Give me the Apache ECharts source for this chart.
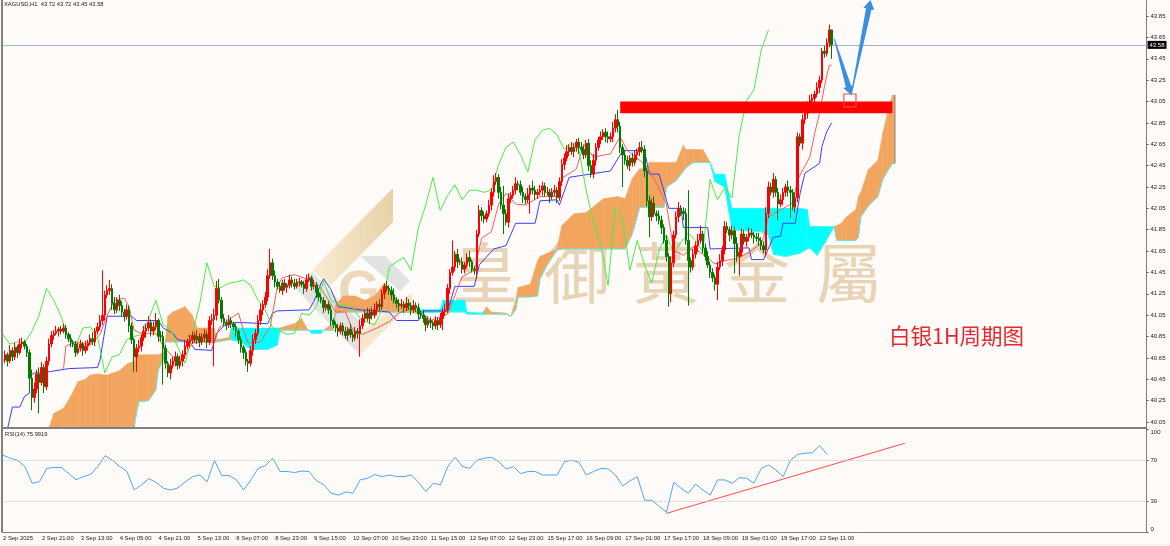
<!DOCTYPE html>
<html><head><meta charset="utf-8">
<style>html,body{margin:0;padding:0;background:#fffbf9}#c{width:1170px;height:546px}</style>
<script src="https://cdn.jsdelivr.net/npm/echarts@6/dist/echarts.min.js"></script>
</head><body><div id="c"></div>
<script>
const tickLabels=['2 Sep 2025','2 Sep 21:00','3 Sep 13:00','4 Sep 05:00','4 Sep 21:00','5 Sep 13:00','8 Sep 07:00','8 Sep 23:00','9 Sep 15:00','10 Sep 07:00','10 Sep 23:00','11 Sep 15:00','12 Sep 07:00','12 Sep 23:00','15 Sep 17:00','16 Sep 09:00','17 Sep 01:00','17 Sep 17:00','18 Sep 09:00','19 Sep 01:00','19 Sep 17:00','22 Sep 11:00'];
const priceTicks=[40.05,40.25,40.45,40.65,40.85,41.05,41.25,41.45,41.65,41.85,42.05,42.25,42.45,42.65,42.85,43.05,43.25,43.45,43.65,43.85];
const rsiTicks=[0,30,70,100];
const lastPrice=43.58;
const closes=[40.63,40.68,40.62,40.72,40.66,40.75,40.70,40.78,40.80,40.76,
40.70,40.46,40.28,40.36,40.50,40.42,40.56,40.38,40.62,40.78,
40.86,40.88,40.90,40.92,40.90,40.93,40.87,40.83,40.80,40.78,
40.70,40.74,40.78,40.72,40.76,40.79,40.83,40.80,40.90,40.94,
41.00,41.05,41.24,41.28,41.30,41.16,41.10,41.19,41.14,41.08,
41.04,41.10,40.95,40.82,40.66,40.74,40.76,40.84,40.90,40.93,
40.98,40.90,40.94,41.00,40.86,40.85,40.74,40.60,40.51,40.58,
40.62,40.66,40.58,40.62,40.68,40.76,40.80,40.82,40.86,40.82,
40.85,40.80,40.84,40.87,40.80,41.00,41.01,41.05,41.30,41.19,
41.02,40.98,40.96,41.00,40.97,40.94,40.90,40.82,40.75,40.70,
40.62,40.60,40.72,40.82,40.88,41.00,41.10,41.15,41.22,41.42,
41.54,41.42,41.36,41.32,41.28,41.35,41.31,41.33,41.38,41.35,
41.32,41.36,41.36,41.34,41.30,41.38,41.40,41.32,41.33,41.26,
41.22,41.19,41.12,41.15,41.10,41.00,40.96,40.93,40.90,40.95,
40.90,40.86,40.92,40.87,40.84,40.90,40.88,40.95,41.02,41.07,
41.02,41.08,41.05,41.10,41.15,41.13,41.25,41.32,41.30,41.28,
41.24,41.19,41.16,41.14,41.15,41.12,41.16,41.14,41.10,41.14,
41.12,41.06,41.05,41.02,40.96,41.00,40.98,40.95,41.00,40.96,
41.02,41.08,41.10,41.30,41.45,41.50,41.62,41.55,41.55,41.48,
41.52,41.59,41.55,41.48,41.47,41.81,42.03,41.98,41.95,42.00,
42.08,42.20,42.30,42.34,42.20,42.08,42.00,41.92,42.14,42.17,
42.22,42.28,42.27,42.20,42.16,42.13,42.18,42.24,42.22,42.18,
42.20,42.22,42.26,42.20,42.20,42.16,42.20,42.22,42.15,42.30,
42.46,42.52,42.58,42.62,42.58,42.62,42.67,42.62,42.60,42.55,
42.66,42.45,42.37,42.50,42.62,42.69,42.72,42.76,42.72,42.70,
42.72,42.80,42.88,42.82,42.62,42.55,42.50,42.45,42.52,42.48,
42.55,42.58,42.62,42.60,42.40,42.12,41.97,42.10,42.00,41.98,
41.94,41.87,41.75,41.60,41.25,41.54,41.80,41.97,42.05,42.02,
42.00,41.75,41.56,41.50,41.62,41.70,41.75,41.81,41.68,41.60,
41.52,41.45,41.40,41.34,41.50,41.56,41.66,41.88,41.85,41.80,
41.84,41.72,41.60,41.64,41.81,41.74,41.78,41.82,41.80,41.78,
41.77,41.75,41.70,41.66,42.00,42.25,42.20,42.32,42.20,42.09,
42.13,42.20,42.25,42.22,42.20,42.06,42.15,42.72,42.66,42.88,
42.94,43.02,43.06,43.08,43.12,43.18,43.25,43.52,43.50,43.60,43.72,43.58];
const upWicks=[3,4,2,5,3,4,2,5,4,2,2,3,8,6,4,6,5,3,4,5,4,3,5,2,3,4,3,2,4,2,3,5,4,2,5,3,4,6,3,4,5,42,4,5,8,4,6,3,5,4,3,5,4,3,2,4,6,3,5,4,6,3,5,7,2,4,5,3,2,6,4,5,3,5,4,6,3,5,4,3,6,3,4,5,3,4,5,6,7,9,3,4,3,5,3,2,3,2,3,2,3,2,4,5,4,5,6,4,5,6,13,4,5,3,4,3,4,2,5,3,4,3,4,2,3,5,4,2,5,3,4,3,3,4,3,4,2,3,4,3,3,4,2,5,3,4,3,6,4,3,5,3,4,6,3,5,4,3,5,3,4,6,3,4,5,3,6,4,3,5,3,4,3,5,2,4,3,2,4,3,5,4,6,4,3,25,3,5,3,4,3,4,6,2,3,4,5,3,4,3,5,4,6,4,3,5,18,4,5,3,4,6,3,4,5,3,6,3,7,4,3,5,4,3,5,3,4,5,3,4,5,4,6,3,5,4,3,4,5,4,3,4,5,6,4,3,5,3,4,5,4,6,5,9,4,3,5,4,3,5,4,3,5,6,4,3,5,4,6,3,5,4,3,5,3,6,4,5,6,3,4,5,47,3,5,4,6,8,3,4,5,3,4,3,5,6,4,5,4,3,5,4,6,3,5,4,3,5,4,3,4,5,3,4,6,5,4,6,3,4,5,4,3,6,4,3,5,4,3,5,4,3,5,4,3,5,4,3,5,4,5,0];
const downWicks=[4,3,5,2,4,3,5,2,4,3,4,8,12,5,4,29,3,6,3,4,3,4,2,5,3,2,4,3,5,3,4,2,3,5,3,4,2,3,4,3,3,4,5,3,4,6,4,3,5,4,5,3,6,4,14,14,4,5,3,6,3,5,4,3,6,4,34,5,4,6,3,5,4,3,5,4,3,5,4,3,4,5,3,4,6,3,4,44,5,3,4,3,5,3,4,3,5,4,5,6,4,8,3,5,4,3,4,5,3,4,3,4,5,3,2,4,3,5,3,4,3,2,4,3,5,3,2,4,3,5,4,3,5,3,4,5,3,4,5,3,4,3,5,3,4,3,5,22,3,4,3,5,4,3,5,4,3,5,3,4,5,3,4,6,3,5,3,4,5,3,4,5,3,4,6,3,5,4,3,5,3,11,4,3,5,3,4,6,3,4,4,3,5,3,4,8,3,5,4,3,3,5,4,3,6,4,19,3,5,4,3,4,5,3,6,4,3,18,4,5,4,3,5,4,3,6,3,4,5,3,4,5,3,4,3,5,4,6,3,4,3,5,3,4,5,3,4,3,5,4,3,5,4,6,5,30,4,3,5,4,3,5,4,3,6,5,19,4,3,5,4,6,3,5,12,8,4,3,5,4,6,4,42,5,3,4,6,3,5,4,3,5,4,6,15,3,5,4,3,6,4,28,5,18,4,3,5,4,3,6,3,5,4,3,6,4,3,5,4,15,3,5,4,6,24,3,5,4,3,6,4,5,3,6,4,3,5,3,4,3,4,13];
const chikouStep=3;
const chikouValues=[40.87,40.78,40.80,40.79,40.90,41.05,41.30,41.19,41.04,40.82,
40.76,40.93,40.94,40.85,40.51,40.66,40.68,40.82,40.85,40.87,
41.01,41.19,40.96,40.92,40.75,40.60,40.88,41.15,41.54,41.32,
41.31,41.35,41.36,41.38,41.33,41.19,41.10,40.93,40.90,40.87,
40.88,41.07,41.05,41.13,41.37,41.19,41.15,41.14,41.12,41.02,
40.98,40.96,41.10,41.50,41.55,41.59,41.47,41.87,42.08,42.34,
42.03,42.17,42.27,42.13,42.22,42.22,42.20,42.22,42.46,42.62,
42.67,42.55,42.39,42.69,42.78,42.80,42.74,42.60,42.66,42.60,
42.22,41.92,41.71,41.33,42.05,41.94,41.47,41.75,41.52,41.35,
41.66,41.80,41.64,41.73,41.82,41.75,41.64,42.32,42.13,42.24,
42.15,42.74,43.06,43.16,43.53,43.72];
const kijunBars=[2,4,7,9,11,11,13,17,19,27,39,40,43,53,55,64,66,70,72,77,79,86,88,91,95,99,109,111,113,126,128,131,132,135,138,147,159,162,164,171,173,183,186,194,196,202,207,211,219,221,228,229,233,250,255,264,266,270,274,279,280,290,291,307,308,313,317,320,321,326,328,330,336,337,339,341];
const kijunValues=[39.99,40.19,40.19,40.29,40.32,40.48,40.51,40.51,40.52,40.55,40.56,40.63,41.04,41.04,41.00,41.00,40.93,40.88,40.82,40.80,40.73,40.72,40.88,40.95,40.98,40.98,40.97,41.07,41.09,41.10,41.18,41.35,41.39,41.29,41.13,41.10,41.08,41.00,41.00,41.00,41.09,41.09,41.32,41.32,41.52,41.67,41.70,41.91,41.91,42.12,42.13,42.08,42.34,42.40,42.59,42.59,42.37,42.37,42.05,42.05,41.87,41.87,41.67,41.68,41.57,41.57,41.78,41.79,41.91,41.91,42.19,42.38,42.47,42.63,42.77,42.85];
const tenkanBars=[25,26,30,36,40,43,46,50,52,54,57,63,66,70,74,78,83,87,89,95,97,99,101,106,110,113,115,120,126,130,134,137,141,144,148,154,159,163,170,176,183,189,194,197,201,204,207,211,215,221,228,230,236,239,243,250,254,257,262,265,269,273,276,280,284,293,297,302,307,312,313,315,325,327,332,334,336,338,340,341];
const tenkanValues=[40.55,40.76,40.80,40.77,40.87,41.05,41.19,41.21,41.13,40.91,40.88,40.88,40.76,40.66,40.63,40.79,40.80,40.79,40.93,41.04,41.07,40.91,40.79,40.80,40.94,41.32,41.40,41.43,41.38,41.33,41.19,41.08,41.08,40.91,40.87,40.93,40.99,41.07,41.13,41.00,41.06,41.41,41.47,41.77,41.83,42.09,42.19,42.09,42.08,42.16,42.16,42.33,42.42,42.65,42.53,42.56,42.72,42.59,42.50,42.44,42.28,42.09,41.66,41.61,41.69,41.53,41.56,41.58,41.64,41.72,41.78,41.97,42.10,42.32,42.53,42.75,42.94,43.19,43.39,43.39];
const cloudBars=[19,21,25,28,31,34,36,39,43,48,51,54,55,56,60,63,64,66,67,68,70,75,78,80,87,88,93,94,98,102,109,113,114,117,120,123,125,126,127,131,132,135,136,137,140,145,149,153,157,160,163,171,180,181,190,191,197,198,199,201,207,209,211,212,217,220,221,224,228,230,235,240,247,253,256,259,262,264,266,272,273,277,280,281,284,288,291,293,297,300,312,315,317,322,328,331,332,335,338,342,343,345,347,351,352,353,356,360,362,364,366,367];
const cloudLow=[39.90,39.90,39.90,39.90,39.90,39.90,39.90,39.90,39.90,39.90,39.90,39.99,40.13,40.24,40.25,40.35,40.54,40.63,40.80,40.80,40.80,40.80,40.80,40.80,40.80,40.80,40.82,40.82,40.80,40.73,40.73,40.77,40.91,40.91,40.91,40.91,40.91,40.91,40.88,40.88,40.91,40.91,40.91,41.07,41.08,41.08,41.08,41.08,41.08,41.08,41.08,41.07,41.08,41.08,41.08,41.06,41.06,41.06,41.06,41.06,41.06,41.04,41.10,41.22,41.22,41.23,41.39,41.52,41.66,41.67,41.67,41.67,41.67,41.67,41.67,41.81,42.06,42.06,42.06,42.06,42.25,42.31,42.40,42.43,42.48,42.48,42.48,42.30,42.25,41.85,41.83,41.80,41.62,41.60,41.63,41.67,41.68,41.61,41.72,41.88,41.75,41.75,41.75,41.75,41.78,41.97,42.07,42.16,42.32,42.40,42.47,42.47];
const cloudHigh=[39.99,40.13,40.18,40.29,40.43,40.45,40.49,40.50,40.49,40.53,40.59,40.62,40.68,40.68,40.68,40.68,40.68,40.70,40.82,41.04,41.08,41.13,41.05,40.93,40.93,40.82,40.84,40.93,40.93,40.93,40.93,40.93,40.93,40.95,40.97,41.02,40.93,40.91,40.91,40.91,40.91,40.96,40.94,41.15,41.23,41.23,41.19,41.23,41.35,41.27,41.16,41.10,41.10,41.19,41.19,41.08,41.07,41.09,41.13,41.08,41.07,41.04,41.19,41.31,41.34,41.56,41.60,41.63,41.67,41.89,42.00,42.01,42.14,42.16,42.14,42.33,42.42,42.42,42.48,42.48,42.48,42.48,42.64,42.60,42.60,42.60,42.48,42.37,42.37,42.05,42.05,42.05,42.05,42.05,42.05,42.04,41.88,41.88,41.88,41.88,41.89,41.91,41.97,42.04,42.16,42.20,42.41,42.50,42.75,42.95,43.11,43.11];
const cyanRanges=[[94,113],[126,131],[171,197],[291,341]];
const rsiStep=3;
const rsiValues=[75,72,70,64,47.5,49,62,63,63,57,51,54,56,64,74.5,70,64,59,41,46,52,48.5,42.6,41,43,49,54,55.6,49,70,55,55,51,41,51,62,65,72,59,59,58,59.5,59,50,46,38,36,39,38,51,52.4,56,54,55.6,54,54,55.6,48.5,39.4,47.5,46,64,73,64,62,70,72,73,68.6,61.5,63.8,57,59,59,55.6,55.6,55.6,68.6,70,68,55.6,59,62,61.5,55.6,45,50,54,31,31,25,19.3,48.5,42.6,37.8,46.6,41,36,50.8,50.8,47.5,53,52.4,47.5,62,65.4,60.5,54,70,75.8,76.8,77.4,84.3,75.99];
const rsiLevels=[70,30];
const rsiTrendBars=[273,371];
const rsiTrendValues=[18.2,86.5];
const zoneBars=[254,366];
const zonePrices=[42.94,43.05];
const boxBars=[346,351];
const boxPrices=[43.0,43.12];
const arrowBars=[[342,349],[349,357]];
const arrowPrices=[[43.64,43.11],[43.11,44.0]];
const cloudEndBar=367;
const cloudEndPrices=[43.11,42.47];

const SLOTS=471, LBL=16;
const cats=Array.from({length:SLOTS},(_,i)=>(i%LBL===0&&tickLabels[i/LBL])||'');
const opens=closes.map((c,i)=>i?closes[i-1]:c);
const candles=closes.map((c,i)=>{const o=opens[i];return [o,c,+(Math.min(o,c)-downWicks[i]/100).toFixed(2),+(Math.max(o,c)+upWicks[i]/100).toFixed(2)];});
const stepped=(a,s)=>a.map((v,i)=>[i*s,v]);
const pairs=(x,y)=>x.map((b,i)=>[b,y[i]]);
const isCyan=b=>cyanRanges.some(r=>b>=r[0]&&b<=r[1]);
const ORANGE='#f2a55e', CYAN='#00ffff';
const thin=(name,data,color,gi,w)=>({name,type:'line',xAxisIndex:gi,yAxisIndex:gi,data,symbol:'none',silent:true,z:4,
  lineStyle:{color,width:w||1},clip:true});
const poly=(pts,fill,extra)=>Object.assign({type:'polygon',shape:{points:pts},style:{fill}},extra||{});

const tan='#e7d3b5';
const wm=[['皇',485],['御',577],['黃',666],['金',757],['屬',849]];
const graphic=[
 poly([[312,270],[393,188],[393,222],[330,286]],new echarts.graphic.LinearGradient(0,0,1,0,[{offset:0,color:'#f9ecd6'},{offset:1,color:'#e8d2a6'}]),{z:-5}),
 poly([[360,355],[412,303],[412,293],[360,333]],'#f6e6cc',{z:-5}),
 poly([[360,256],[385,256],[410,281],[400,291]],'#e2e2e2',{z:-5}),
 poly([[295,288],[312,272],[360,322],[360,355]],'#e2e2e2',{z:-5}),
 {type:'text',left:338,top:266,z:-4,style:{text:'G',fill:'#ecd9bd',font:'bold 54px "Liberation Sans"'}},
 ...wm.map(w=>({type:'text',left:w[1]-33,top:240,z:-4,style:{text:w[0],fill:tan,font:'66px "Noto Sans CJK TC"'}})),
 {type:'text',left:4,top:1,style:{text:'XAGUSD,H1  43.72 43.72 43.45 43.58',fill:'#222',font:'5.8px "Liberation Sans"'}},
 {type:'text',left:5,top:431,style:{text:'RSI(14) 75.9919',fill:'#222',font:'5.8px "Liberation Sans"'}},
 {type:'text',left:889,top:325,style:{text:'白银1H周期图',fill:'#e8262e',font:'21.5px "Noto Sans CJK SC"'}},
 {type:'rect',shape:{x:1,y:0,width:2,height:532},style:{fill:'#808080'},z:20},
 {type:'rect',shape:{x:1,y:427,width:1146,height:2},style:{fill:'#808080'},z:20},
 {type:'rect',shape:{x:0,y:544,width:1170,height:2},style:{fill:'#f6f6f6'},z:20}
];

const option={
 animation:false,backgroundColor:'#fffbf9',textStyle:{fontFamily:'Liberation Sans'},graphic,
 grid:[{left:1.5,width:1145,top:0,height:428},
       {left:1.5,width:1145,top:429.5,height:102.5}],
 xAxis:[{type:'category',gridIndex:0,data:cats,show:false},
  {type:'category',gridIndex:1,data:cats,axisLine:{lineStyle:{color:'#808080'}},
   axisTick:{alignWithLabel:true,length:2,interval:i=>i%LBL===0&&i/LBL<tickLabels.length,lineStyle:{color:'#555'}},
   axisLabel:{interval:i=>i%LBL===0&&i/LBL<tickLabels.length,fontSize:5.9,color:'#222',align:'left',margin:3,showMinLabel:true,hideOverlap:false},splitLine:{show:false}}],
 yAxis:[{type:'value',gridIndex:0,position:'right',min:39.994,max:44.0,splitLine:{show:false},axisLine:{show:true,lineStyle:{color:'#808080'}},
   axisTick:{show:true,length:2,customValues:priceTicks,lineStyle:{color:'#555'}},
   axisLabel:{customValues:priceTicks,fontSize:6,color:'#222',margin:4,formatter:v=>v.toFixed(2)}},
  {type:'value',gridIndex:1,position:'right',min:0,max:100,splitLine:{show:false},axisLine:{show:true,lineStyle:{color:'#808080'}},
   axisTick:{show:true,length:2,customValues:rsiTicks,lineStyle:{color:'#555'}},
   axisLabel:{customValues:rsiTicks,fontSize:6,color:'#222',margin:4,verticalAlignMinLabel:'bottom',verticalAlignMaxLabel:'top'}}],
 series:[
  {type:'custom',name:'cloud',xAxisIndex:0,yAxisIndex:0,clip:true,z:1,silent:true,
   data:pairs(cloudBars,cloudLow),encode:{x:0,y:1},
   renderItem:(p,api)=>{const i=p.dataIndex;if(i>=cloudBars.length-1)return null;
     const a=cloudBars[i],b=cloudBars[i+1];
     const pts=[api.coord([a,cloudLow[i]]),api.coord([a,cloudHigh[i]]),api.coord([b,cloudHigh[i+1]]),api.coord([b,cloudLow[i+1]])];
     const col=isCyan(a)?CYAN:ORANGE;
     return {type:'polygon',shape:{points:pts},style:{fill:col,stroke:col,lineWidth:0.5}};}},
  {name:'span edge',type:'line',xAxisIndex:0,yAxisIndex:0,data:pairs(cloudBars,cloudLow),symbol:'none',silent:true,z:2,lineStyle:{color:'#5fe8e0',width:1},clip:true},
  {name:'cloud end',type:'line',xAxisIndex:0,yAxisIndex:0,data:cloudEndPrices.map(v=>[cloudEndBar,v]),symbol:'none',silent:true,z:2,lineStyle:{color:'#808080',width:1}},
  thin('kijun',pairs(kijunBars,kijunValues),'#3c3cff',0),
  thin('tenkan',pairs(tenkanBars,tenkanValues),'#ff5a5a',0),
  thin('chikou',stepped(chikouValues,chikouStep),'#44f044',0),
  {name:'XAGUSD',type:'candlestick',xAxisIndex:0,yAxisIndex:0,data:candles,barWidth:2,z:5,silent:true,large:false,
   itemStyle:{color:'#ff0000',color0:'#007a00',borderColor:'#ff0000',borderColor0:'#007a00',borderWidth:1},
   markLine:{silent:true,symbol:'none',animation:false,lineStyle:{color:'#aab4c8',width:1,type:'solid'},
    data:[{yAxis:lastPrice}],label:{position:'end',formatter:lastPrice.toFixed(2),color:'#fff',backgroundColor:'#000',fontSize:6,padding:[1,2],distance:1}}},
  {type:'custom',name:'zone',xAxisIndex:0,yAxisIndex:0,clip:true,z:6,silent:true,data:[[zoneBars[0],zonePrices[0]]],encode:{x:0,y:1},
   renderItem:(p,api)=>{const a=api.coord([zoneBars[0],zonePrices[1]]),b=api.coord([zoneBars[1],zonePrices[0]]);
     return {type:'rect',shape:{x:a[0],y:a[1],width:b[0]-a[0],height:b[1]-a[1]},style:{fill:'#ff0000'}};}},
  {type:'custom',name:'box',xAxisIndex:0,yAxisIndex:0,clip:true,z:7,silent:true,data:[[boxBars[0],boxPrices[0]]],encode:{x:0,y:1},
   renderItem:(p,api)=>{const a=api.coord([boxBars[0],boxPrices[1]]),b=api.coord([boxBars[1],boxPrices[0]]);
     return {type:'rect',shape:{x:a[0],y:a[1],width:b[0]-a[0],height:b[1]-a[1]},style:{fill:'transparent',stroke:'#ff4a4a',lineWidth:1.2}};}},
  {type:'custom',name:'arrows',xAxisIndex:0,yAxisIndex:0,clip:true,z:8,silent:true,data:arrowBars.map((b,i)=>[b[0],arrowPrices[i][0]]),encode:{x:0,y:1},
   renderItem:(p,api)=>{const i=p.dataIndex;
     const s=api.coord([arrowBars[i][0],arrowPrices[i][0]]),e=api.coord([arrowBars[i][1],arrowPrices[i][1]]);
     const dx=e[0]-s[0],dy=e[1]-s[1],L=Math.hypot(dx,dy),ux=dx/L,uy=dy/L,nx=-uy,ny=ux;
     const at=(d,o)=>[s[0]+ux*d+nx*o,s[1]+uy*d+ny*o];
     return {type:'polygon',shape:{points:[at(0,0.4),at(L-9,2.8),at(L-9,5.5),at(L,0),at(L-9,-5.5),at(L-9,-2.8),at(0,-0.4)]},style:{fill:'#3a90e0'}};}},
  thin('rsi',stepped(rsiValues,rsiStep),'#4da6ff',1),
  {name:'levels',type:'line',xAxisIndex:1,yAxisIndex:1,data:[],symbol:'none',silent:true,
   markLine:{silent:true,symbol:'none',animation:false,label:{show:false},lineStyle:{color:'#c8c8c8',type:'dotted',width:1},data:rsiLevels.map(v=>({yAxis:v}))}},
  thin('rsi trend',pairs(rsiTrendBars,rsiTrendValues),'#ff4a4a',1)
 ]
};
echarts.init(document.getElementById('c')).setOption(option);
</script></body></html>
